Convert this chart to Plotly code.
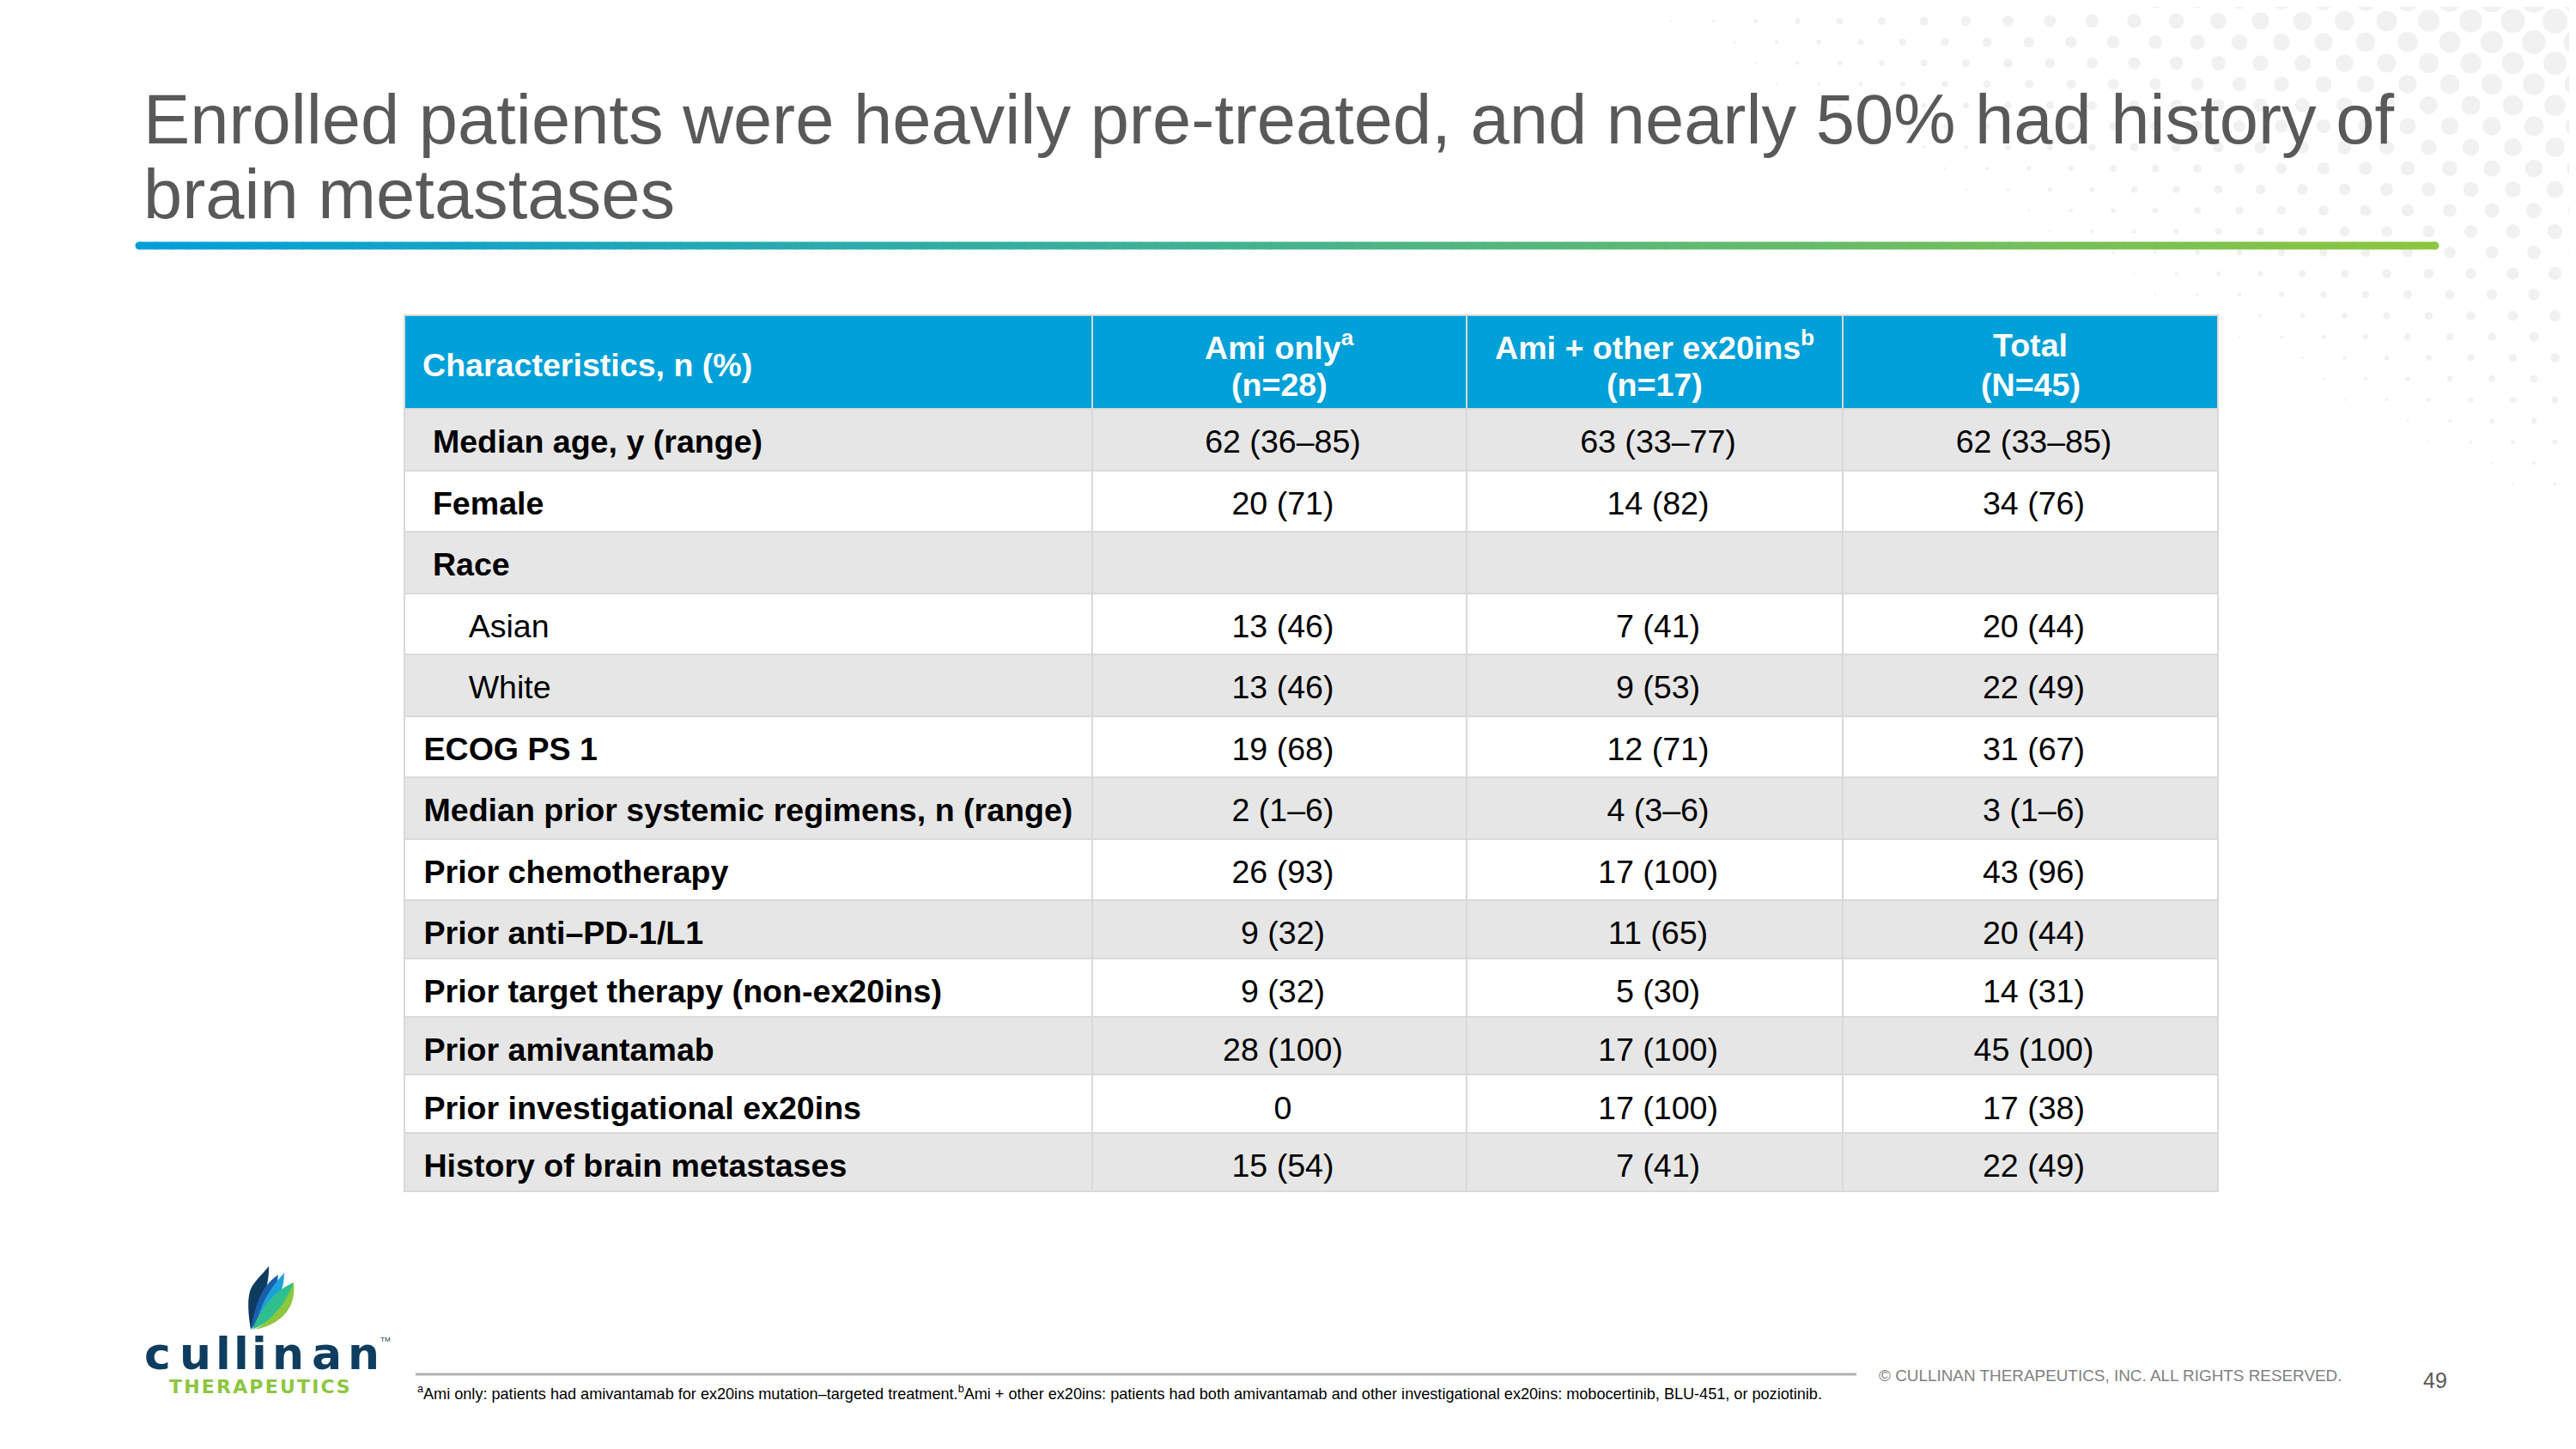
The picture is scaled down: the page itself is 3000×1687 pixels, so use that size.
import plotly.graph_objects as go

# Page pixel frame (the page body has an 8 px margin, so the figure starts at 8,8)
PW, PH = 3000, 1687
OFF = 8
W, H = PW - OFF, PH - OFF

# ---------------- data ----------------
title_lines = [
    "Enrolled patients were heavily pre-treated, and nearly 50% had history of",
    "brain metastases",
]
first_header = "<b>Characteristics, n (%)</b>"
group_names = ["<b>Ami only<sup>a</sup></b>", "<b>Ami + other ex20ins<sup>b</sup></b>", "<b>Total</b>"]
group_sizes = ["<b>(n=28)</b>", "<b>(n=17)</b>", "<b>(N=45)</b>"]
characteristics = [
    "Median age, y (range)", "Female", "Race", "Asian", "White", "ECOG PS 1",
    "Median prior systemic regimens, n (range)", "Prior chemotherapy",
    "Prior anti\u2013PD-1/L1", "Prior target therapy (non-ex20ins)",
    "Prior amivantamab", "Prior investigational ex20ins", "History of brain metastases",
]
indent_levels = [1, 1, 1, 2, 2, 0, 0, 0, 0, 0, 0, 0, 0]
bold_rows = [True, True, True, False, False, True, True, True, True, True, True, True, True]
ami_only = ["62 (36\u201385)", "20 (71)", "", "13 (46)", "13 (46)", "19 (68)", "2 (1\u20136)",
            "26 (93)", "9 (32)", "9 (32)", "28 (100)", "0", "15 (54)"]
ami_other = ["63 (33\u201377)", "14 (82)", "", "7 (41)", "9 (53)", "12 (71)", "4 (3\u20136)",
             "17 (100)", "11 (65)", "5 (30)", "17 (100)", "17 (100)", "7 (41)"]
total = ["62 (33\u201385)", "34 (76)", "", "20 (44)", "22 (49)", "31 (67)", "3 (1\u20136)",
         "43 (96)", "20 (44)", "14 (31)", "45 (100)", "17 (38)", "22 (49)"]
footnote = ("<sup>a</sup>Ami only: patients had amivantamab for ex20ins mutation\u2013targeted treatment."
            "<sup>b</sup>Ami + other ex20ins: patients had both amivantamab and other investigational "
            "ex20ins: mobocertinib, BLU-451, or poziotinib.")
copyright_text = "\u00a9 CULLINAN THERAPEUTICS, INC. ALL RIGHTS RESERVED."
page_number = "49"

# ---------------- styles ----------------
FONT = "Liberation Sans, Arial, sans-serif"
BLUE = "#00A0D8"
ROW_GRAY = "#E6E6E6"
LINE = "#D9D9D9"
TITLE_GRAY = "#595959"
CLEAR = "rgba(0,0,0,0)"
FS = 37.6

# table geometry (page px)
T_LEFT, T_RIGHT, T_TOP = 471, 2583, 367
COL_EDGES = [471, 1272, 1708, 2146, 2583]
COL_W = [COL_EDGES[k + 1] - COL_EDGES[k] for k in range(4)]
HEADER_H = 109
ROW_H_TOP, ROW_H_BOTTOM = 71.5, 67.8   # rows 1-8 are a bit taller than rows 9-13
SPLIT = 8
TEXT_SHIFT = 15
ALIGN = ["left", "center", "center", "center"]


def dom_x(a, b):
    return [(a - OFF) / W, (b - OFF) / W]


def dom_y(top, bottom):
    return [1 - (bottom - OFF) / H, 1 - (top - OFF) / H]


def center_from_baseline(baseline, size, k=0.3465):
    return baseline - k * size


fig = go.Figure()

# ---------------- decorative halftone dots (top-right) ----------------
dx, dy_, ds = [], [], []
step = 24.5
for j in range(0, 36):
    yy = j * step
    for i in range(0, 56):
        if (i + j) % 2:
            continue
        xx = PW - i * step
        u = ((PW - xx) * 0.55 + yy) / 660.0
        if u >= 0.93:
            continue
        dx.append(xx)
        dy_.append(yy)
        ds.append(max(2.5, 31 * (1 - u)))
fig.add_trace(go.Scatter(x=dx, y=dy_, mode="markers",
                         marker=dict(size=ds, color="#EBEBEB", line=dict(width=0)),
                         hoverinfo="skip", showlegend=False))

# ---------------- table ----------------
nrows = len(characteristics)
pads = {0: "\u00a0", 1: "\u00a0\u00a0", 2: "\u00a0" * 6}
labels = [pads[l] + t for t, l in zip(characteristics, indent_levels)]
bold_labels = [s if b else "" for s, b in zip(labels, bold_rows)]
plain_labels = [s if not b else "" for s, b in zip(labels, bold_rows)]
row_fills = [ROW_GRAY if k % 2 == 0 else "white" for k in range(nrows)]
text_cols_bold = [bold_labels, ami_only, ami_other, total]
text_cols_plain = [plain_labels, [""] * nrows, [""] * nrows, [""] * nrows]


def font(weight, color="black"):
    return dict(family=FONT, size=FS, color=color, weight=weight)


def add_block(rows, top, row_h, real_header):
    """Grid/fill table plus text tables for a block of rows (text nudged to mid-row)."""
    first_h = HEADER_H if real_header else row_h
    body = rows if real_header else rows[1:]
    bottom = top + first_h + len(body) * row_h
    if real_header:
        hdr_fill = dict(values=[""] * 4, fill_color=BLUE, height=HEADER_H,
                        font=font(700, "white"), line=dict(color=LINE, width=2))
    else:
        hdr_fill = dict(values=[""] * 4, fill_color=row_fills[rows[0]], height=row_h,
                        font=font(400), line=dict(color=LINE, width=2))
    fig.add_trace(go.Table(
        domain=dict(x=dom_x(T_LEFT, T_RIGHT), y=dom_y(top, bottom + 30)),
        columnwidth=COL_W, header=hdr_fill,
        cells=dict(values=[[""] * len(body)] * 4, fill_color=[[row_fills[r] for r in body]] * 4,
                   height=row_h, font=font(400), line=dict(color=LINE, width=2)),
    ))
    for cols, weights in ((text_cols_bold, [700, 400, 400, 400]),
                          (text_cols_plain, [400, 400, 400, 400])):
        hvals = [""] * 4 if real_header else [c[rows[0]] for c in cols]
        hdr_text = dict(values=hvals, fill_color=CLEAR, height=first_h, align=ALIGN,
                        font=font(weights), line=dict(color=CLEAR, width=0))
        fig.add_trace(go.Table(
            domain=dict(x=dom_x(T_LEFT + 4, T_RIGHT + 4),
                        y=dom_y(top + TEXT_SHIFT, bottom + TEXT_SHIFT + 60)),
            columnwidth=COL_W, header=hdr_text,
            cells=dict(values=[[c[r] for r in body] for c in cols], fill_color=CLEAR,
                       height=row_h, font=font(weights), align=ALIGN,
                       line=dict(color=CLEAR, width=0)),
        ))
    return bottom


split_top = add_block(list(range(0, SPLIT)), T_TOP, ROW_H_TOP, True)
add_block(list(range(SPLIT, nrows)), split_top, ROW_H_BOTTOM, False)

shapes = []
annotations = []

# header texts
annotations.append(dict(text=first_header, xref="x", yref="y", x=490, y=425,
                        xanchor="left", yanchor="middle", showarrow=False,
                        font=dict(family=FONT, size=FS, color="white")))
for k in range(3):
    cx = (COL_EDGES[k + 1] + COL_EDGES[k + 2]) / 2
    annotations.append(dict(text=group_names[k], xref="x", yref="y", x=cx, y=402,
                            xanchor="center", yanchor="middle", showarrow=False,
                            font=dict(family=FONT, size=FS, color="white")))
    annotations.append(dict(text=group_sizes[k], xref="x", yref="y", x=cx, y=448,
                            xanchor="center", yanchor="middle", showarrow=False,
                            font=dict(family=FONT, size=FS, color="white")))

# ---------------- gradient rule under title ----------------
c0 = (0, 159, 218)
c1 = (141, 198, 63)
x0, x1, yl, n = 162, 2836, 286, 140
for k in range(n):
    t = (k + 0.5) / n
    col = tuple(int(round(a + (b - a) * t)) for a, b in zip(c0, c1))
    xa = x0 + (x1 - x0) * k / n
    xb = x0 + (x1 - x0) * (k + 1) / n + 1
    shapes.append(dict(type="line", xref="x", yref="y", x0=xa, x1=xb, y0=yl, y1=yl,
                       line=dict(color="rgb(%d,%d,%d)" % col, width=9), layer="above"))
for cx, col in ((x0, c0), (x1, c1)):
    shapes.append(dict(type="circle", xref="x", yref="y", x0=cx - 4.5, x1=cx + 4.5,
                       y0=yl - 4.5, y1=yl + 4.5, fillcolor="rgb(%d,%d,%d)" % col,
                       line=dict(width=0), layer="above"))

# ---------------- title ----------------
for line, base in zip(title_lines, (167, 254)):
    annotations.append(dict(text=line, xref="x", yref="y", x=165,
                            y=center_from_baseline(base, 81.3), xanchor="left", yanchor="middle",
                            showarrow=False, font=dict(family=FONT, size=81.3, color=TITLE_GRAY)))

# ---------------- footer ----------------
shapes.append(dict(type="line", xref="x", yref="y", x0=484, x1=2162, y0=1600, y1=1600,
                   line=dict(color="#B3B3B3", width=3), layer="above"))
annotations.append(dict(text=footnote, xref="x", yref="y", x=484, y=center_from_baseline(1628, 18.1),
                        xanchor="left", yanchor="middle", showarrow=False,
                        font=dict(family=FONT, size=18.1, color="black")))
annotations.append(dict(text=copyright_text, xref="x", yref="y", x=2186,
                        y=center_from_baseline(1608, 18.9), xanchor="left", yanchor="middle",
                        showarrow=False, font=dict(family=FONT, size=18.9, color="#808080")))
annotations.append(dict(text=page_number, xref="x", yref="y", x=2836,
                        y=center_from_baseline(1616, 25), xanchor="center", yanchor="middle",
                        showarrow=False, font=dict(family=FONT, size=25, color=TITLE_GRAY)))

# ---------------- logo ----------------
leaf_paths = [
    ("#0E3B5E", "M 292 1548 C 288 1525 288 1506 294 1497 C 300 1488 308 1481 313 1474 C 314 1496 305 1520 292 1548 Z"),
    ("#1B5FAA", "M 292 1548 C 296 1526 302 1506 311 1496 C 316 1490 320 1487 324 1484 C 322 1506 311 1528 292 1548 Z"),
    ("#1BA1DC", "M 300 1536 C 306 1512 318 1496 331 1482 C 331 1502 322 1522 300 1540 Z"),
    ("#2FBF8F", "M 294 1548 C 300 1530 314 1511 328 1501 C 334 1497 338 1495 342 1493 C 338 1515 322 1536 294 1548 Z"),
    ("#8DC63F", "M 297 1548 C 314 1538 332 1520 342 1493 C 345 1520 331 1541 297 1548 Z"),
]
for col, p in leaf_paths:
    shapes.append(dict(type="path", xref="x", yref="y", path=p, fillcolor=col,
                       line=dict(width=0), layer="above"))

logo_letters = list("cullinan")
logo_centers = [183, 227, 260, 281, 302, 335, 380, 423]
for ch, cx in zip(logo_letters, logo_centers):
    annotations.append(dict(text=ch, xref="x", yref="y", x=cx, y=center_from_baseline(1594, 52, 0.346),
                            xanchor="center", yanchor="middle", showarrow=False,
                            font=dict(family="DejaVu Sans", size=52, color="#0F3D5F", weight=700)))
annotations.append(dict(text="TM", xref="x", yref="y", x=449, y=1559, xanchor="center", yanchor="middle",
                        showarrow=False, font=dict(family=FONT, size=8, color="#0F3D5F")))
annotations.append(dict(text="\u200a".join("THERAPEUTICS"), xref="x", yref="y", x=302,
                        y=center_from_baseline(1622, 22, 0.346), xanchor="center", yanchor="middle",
                        showarrow=False, font=dict(family="DejaVu Sans", size=22, color="#8DC63F", weight=700)))

fig.update_layout(
    width=W, height=H, margin=dict(l=0, r=0, t=0, b=0),
    paper_bgcolor="white", plot_bgcolor="white",
    xaxis=dict(range=[OFF, PW], visible=False, fixedrange=True, domain=[0, 1]),
    yaxis=dict(range=[PH, OFF], visible=False, fixedrange=True, domain=[0, 1]),
    shapes=shapes, annotations=annotations, showlegend=False,
)

fig.write_html("out.html")
